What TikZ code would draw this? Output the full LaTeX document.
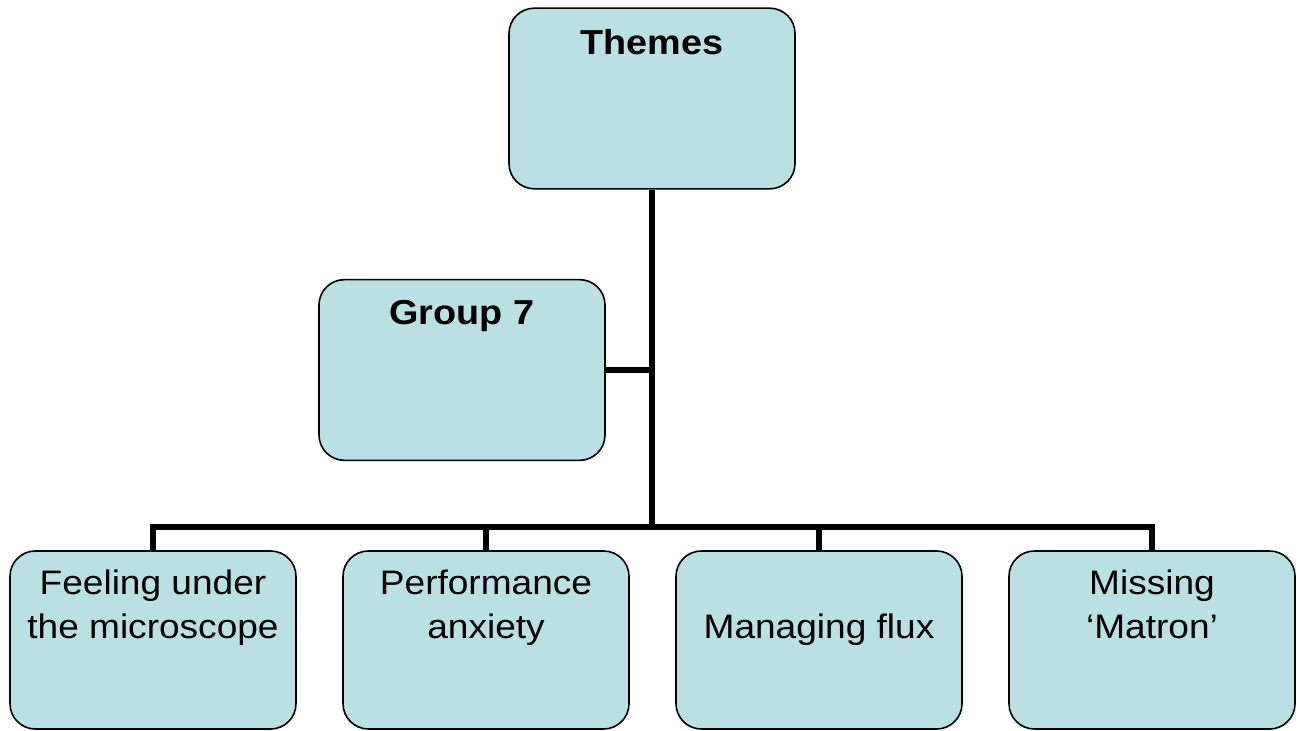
\documentclass[tikz,border=0pt]{standalone}
\usepackage{fontspec}
\setmainfont[FakeStretch=1.09]{Liberation Sans}
\usetikzlibrary{positioning,calc}
\definecolor{boxfill}{HTML}{BAE0E3}

\begin{document}
\begin{tikzpicture}[x=0.75pt,y=-0.75pt,line width=.8pt,
  theme/.style={draw=black,fill=boxfill,rounded corners=19pt,minimum width=214.5pt,minimum height=135.5pt,inner sep=0pt,line width=1.2pt},
  leafbox/.style={theme,minimum height=133.5pt},
  trunk/.style={draw=black,line width=3.9pt},
  title/.style={font=\fontsize{26}{31}\selectfont\bfseries,anchor=base},
  leaf/.style={font=\fontsize{25.5}{33}\selectfont,align=center,inner sep=0pt}]
\useasboundingbox (0,0) rectangle (1304,731);
% boxes
\node[theme] (themes) at (652,98.5) {};
\node[theme] (group) at (462,370) {};
\node[leafbox] (feel) at (153,640) {};
\node[leafbox] (perf) at (486,640) {};
\node[leafbox] (flux) at (819,640) {};
\node[leafbox] (matron) at (1152,640) {};
% connectors
\coordinate (hub) at (652,527);
\draw[trunk] (themes.south) -- (hub);
\draw[trunk] (group.east) -- (group.east -| hub);
\foreach \n in {feel,perf,flux,matron}
  \draw[trunk] (\n.north) |- (hub);
% labels
\node[title] (themestxt) at (652,55) {Themes};
\node[title] (grouptxt) at (462,325) {Group 7};
\node[leaf] (feeltxt) at (153,608) {Feeling under\\the microscope};
\node[leaf] (perftxt) at (486,608) {Performance\\anxiety};
\node[leaf] (fluxtxt) at (819,630) {Managing flux};
\node[leaf] (matrontxt) at (1152,604) {Missing\\‘Matron’};
\end{tikzpicture}
\end{document}
